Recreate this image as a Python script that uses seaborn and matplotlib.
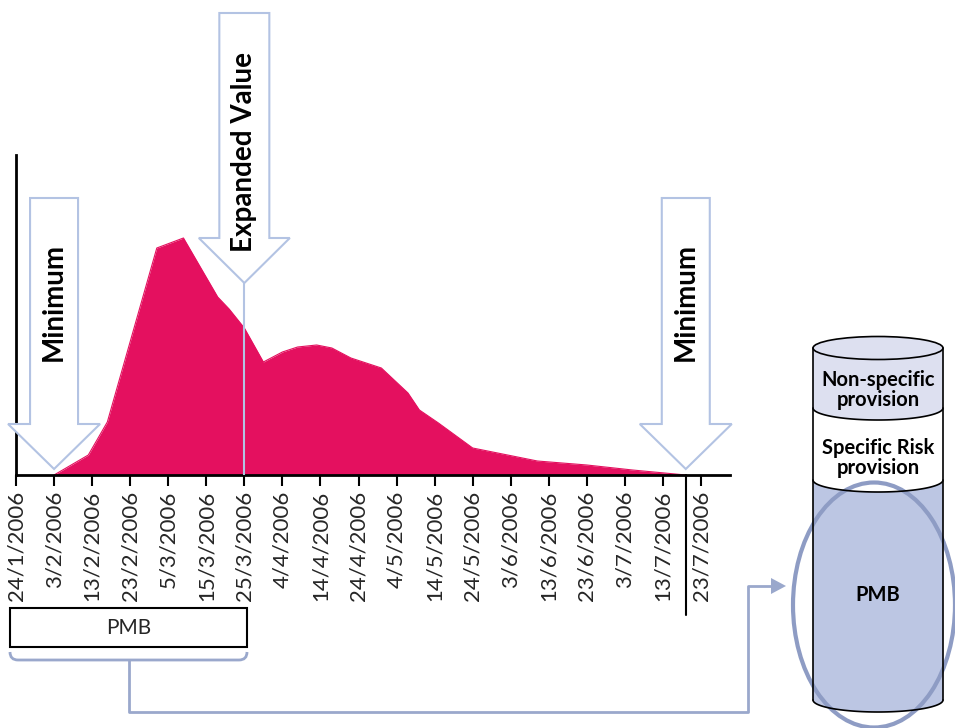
import numpy as np
import pandas as pd
import seaborn as sns
import matplotlib.pyplot as plt
from matplotlib.patches import Polygon, Rectangle, Ellipse, PathPatch
from matplotlib.path import Path

# curve values (arbitrary units, no y scale shown)
dates = ["2006-02-03", "2006-02-12", "2006-02-17", "2006-03-02", "2006-03-09",
         "2006-03-18", "2006-03-21", "2006-03-25", "2006-03-30", "2006-04-04",
         "2006-04-08", "2006-04-13", "2006-04-17", "2006-04-22", "2006-04-26",
         "2006-04-30", "2006-05-07", "2006-05-10", "2006-05-15", "2006-05-24",
         "2006-06-10", "2006-06-23", "2006-07-05", "2006-07-19"]
values = [0, 20, 53, 227, 237, 178, 166, 147, 113, 123, 128, 130, 127, 117, 112,
          107, 82, 65, 52, 27, 14, 10, 5, 0]

start_date = "2006-01-24"
n_ticks = 19
minimum_dates = ["2006-02-03", "2006-07-19"]
expanded_date = "2006-03-25"
cylinder_layers = ["Non-specific\nprovision", "Specific Risk\nprovision", "PMB"]

pink = "#E4105F"
arrow_col = "#B3C3E3"
light_lav = "#DDE0F0"
pmb_blue = "#BCC6E3"
conn_col = "#9AA8CC"
ring_col = "#8E9CC4"

sns.set_theme(style="white")
plt.rcParams["font.family"] = ["Lato", "DejaVu Sans"]

start = pd.Timestamp(start_date)
df = pd.DataFrame({"date": pd.to_datetime(dates), "value": values})
df["day"] = (df["date"] - start).dt.days

W, H = 955, 728
fig = plt.figure(figsize=(W / 100, H / 100), dpi=100)
ax = fig.add_axes([16 / W, 1 - 475 / H, 714 / W, 320 / H])
ax.set_facecolor("none")

sns.lineplot(data=df, x="day", y="value", ax=ax, color=pink, lw=0.8)
ax.fill_between(df["day"], df["value"], color=pink, lw=0)

px_day = 685 / 180
ax.set_xlim(0, 714 / px_day)
ax.set_ylim(0, 320)

tick_days = np.arange(n_ticks) * 10
tick_dates = [start + pd.Timedelta(days=int(d)) for d in tick_days]
tick_labels = [f"{d.day}/{d.month}/{d.year}" for d in tick_dates]
ax.set_xticks(tick_days)
ax.set_xticklabels(tick_labels, rotation=90, fontsize=16)
ax.set_yticks([])
ax.set_xlabel("")
ax.set_ylabel("")
ax.tick_params(axis="x", bottom=True, length=8, width=1.5, color="black", pad=3, direction="out")
for s in ["top", "right"]:
    ax.spines[s].set_visible(False)
for s in ["left", "bottom"]:
    ax.spines[s].set_color("black")
    ax.spines[s].set_linewidth(2)


def down_arrow(x, tip, head_base, top, label, text_y, shaft_px=24, head_px=46):
    sw = shaft_px / px_day
    hw = head_px / px_day
    pts = [(x - sw, top), (x + sw, top), (x + sw, head_base), (x + hw, head_base),
           (x, tip), (x - hw, head_base), (x - sw, head_base)]
    ax.add_patch(Polygon(pts, closed=True, fc="white", ec=arrow_col, lw=1.5,
                         clip_on=False, zorder=5))
    ax.text(x, text_y, label, rotation=90, ha="center", va="center",
            rotation_mode="anchor", fontsize=20, fontweight="bold", color="black",
            zorder=6, clip_on=False)


for d in minimum_dates:
    xd = (pd.Timestamp(d) - start).days
    down_arrow(xd, 6, 51, 277, "Minimum", 173)

xe = (pd.Timestamp(expanded_date) - start).days
down_arrow(xe, 192, 237, 462, "Expanded Value", 323, shaft_px=25, head_px=45.5)
ax.plot([xe, xe], [0, 192], color=arrow_col, lw=1.5, zorder=4)

# end marker line
xend = (pd.Timestamp(minimum_dates[1]) - start).days
ax.plot([xend, xend], [0, -140], color="black", lw=1.5, clip_on=False, zorder=4)

# overlay in pixel coordinates for the diagram parts
ov = fig.add_axes([0, 0, 1, 1], zorder=-1)
ov.set_xlim(0, W)
ov.set_ylim(H, 0)
ov.axis("off")
ov.set_facecolor("none")

# PMB box and bracket
ov.add_patch(Rectangle((10, 608), 237, 39, fc="white", ec="black", lw=1.5))
ov.text(128.5, 628, "PMB", ha="center", va="center", fontsize=15)
br = Path([(10, 652), (10, 660), (18, 660), (239, 660), (247, 660), (247, 652)],
          [Path.MOVETO, Path.CURVE3, Path.CURVE3, Path.LINETO, Path.CURVE3, Path.CURVE3])
ov.add_patch(PathPatch(br, fill=False, ec=conn_col, lw=2))
ov.plot([129, 129, 748, 748, 772], [660, 712, 712, 586, 586], color=conn_col, lw=2)
ov.add_patch(Polygon([(771, 578), (786, 586), (771, 594)], closed=True, fc=conn_col, ec="none"))

# cylinder
cx, rx = 878, 65


def lower_arc(yc, b, reverse=False):
    t = np.linspace(np.pi, 0, 80)
    if reverse:
        t = t[::-1]
    return np.column_stack([cx + rx * np.cos(t), yc + b * np.sin(t)])


bands = [(348, 408, light_lav), (408, 480, "white"), (480, 700, pmb_blue)]
for yt, yb, col in bands:
    pts = np.vstack([lower_arc(yt, 12), lower_arc(yb, 12, reverse=True)])
    ov.add_patch(Polygon(pts, closed=True, fc=col, ec="none"))
ov.add_patch(Ellipse((cx, 348), 2 * rx, 23, fc=light_lav, ec="black", lw=1.2))
for yb in [408, 480, 700]:
    a = lower_arc(yb, 12)
    ov.plot(a[:, 0], a[:, 1], color="black", lw=1.2)
ov.plot([cx - rx, cx - rx], [348, 700], color="black", lw=1.2)
ov.plot([cx + rx, cx + rx], [348, 700], color="black", lw=1.2)

for y, lab in zip([390, 458, 595], cylinder_layers):
    ov.text(cx, y, lab, ha="center", va="center", fontsize=14.5, fontweight="bold",
            linespacing=1.0, color="black")

ov.add_patch(Ellipse((874, 605), 162, 245, fill=False, ec=ring_col, lw=3))

fig.savefig("out.png", dpi=100)
